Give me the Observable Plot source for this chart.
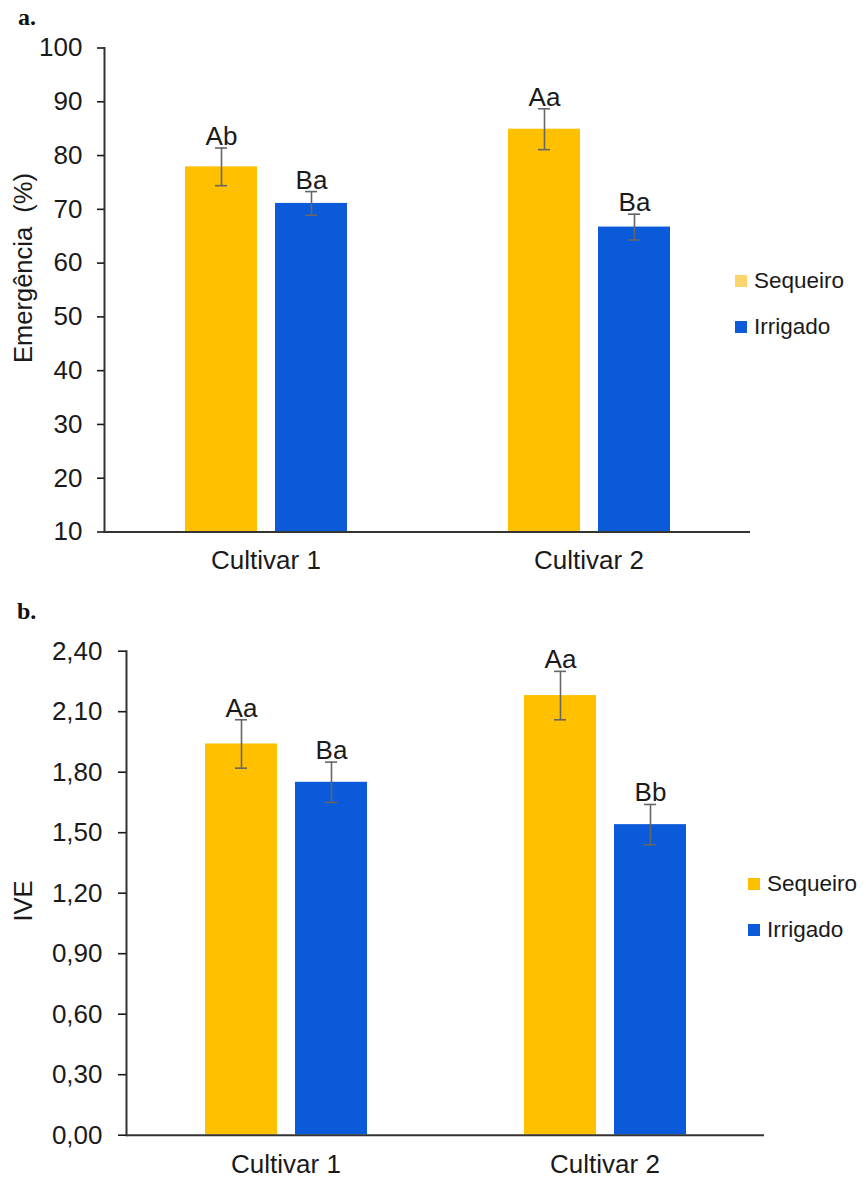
<!DOCTYPE html>
<html><head><meta charset="utf-8">
<script src="https://cdn.jsdelivr.net/npm/d3@7"></script>
<script src="https://cdn.jsdelivr.net/npm/@observablehq/plot@0.6"></script>
<style>
body{margin:0;background:#fff;font-family:"Liberation Sans",Arial,sans-serif;}
#wrap{position:relative;width:866px;height:1178px;overflow:hidden;background:#fff}
.panel{position:absolute;left:0}
.tag{position:absolute;font-family:"Liberation Serif","Times New Roman",serif;font-weight:bold;font-size:24px;line-height:1;color:#111}
.ylab{position:absolute;font-size:25.5px;color:#1a1a1a;transform:translate(-50%,-50%) rotate(-90deg);white-space:pre;line-height:1}
.leg{position:absolute;display:flex;align-items:center;font-size:22.5px;color:#1a1a1a;height:30px;white-space:nowrap}
.sw{width:12px;height:12px;margin-right:7px;flex:none}
</style></head>
<body>
<div id="wrap"></div>
<script>
// ---- data ----
const cultivars = ["Cultivar 1", "Cultivar 2"];
const treatments = ["Sequeiro", "Irrigado"];
// order: Cultivar 1 Sequeiro, Cultivar 1 Irrigado, Cultivar 2 Sequeiro, Cultivar 2 Irrigado
const emergMean = [77.9, 71.1, 84.9, 66.7];
const emergErr = [3.5, 2.2, 3.8, 2.4];
const emergLetters = ["Ab", "Ba", "Aa", "Ba"];
const iveMean = [1.94, 1.75, 2.18, 1.54];
const iveErr = [0.12, 0.10, 0.12, 0.10];
const iveLetters = ["Aa", "Ba", "Aa", "Bb"];
const emergTicks = [10, 20, 30, 40, 50, 60, 70, 80, 90, 100];
const iveTicks = [0, 0.3, 0.6, 0.9, 1.2, 1.5, 1.8, 2.1, 2.4];
const colors = ["#FFC000", "#0B5ADA"];
const legendSwatchA = ["#FBD46C", "#0B5ADA"];

function rows(means, errs, letters) {
  const out = [];
  cultivars.forEach((c, i) => treatments.forEach((t, j) => {
    const k = i * treatments.length + j;
    out.push({cultivar: c, treat: t, mean: means[k], err: errs[k], letter: letters[k]});
  }));
  return out;
}

function panel(opts) {
  const data = rows(opts.means, opts.errs, opts.letters);
  const lo = d => d.mean - d.err, hi = d => d.mean + d.err;
  const ticks = opts.ticks;
  return Plot.plot({
    width: 866, height: opts.height,
    marginTop: opts.mt, marginBottom: opts.mb, marginLeft: opts.ml, marginRight: opts.mr,
    style: {fontFamily: '"Liberation Sans", Arial, sans-serif', fontSize: "26px", color: "#1a1a1a", background: "#fff", overflow: "visible"},
    fx: {domain: cultivars, padding: 0, label: null},
    x: {domain: treatments, axis: null, paddingInner: 0.2, paddingOuter: opts.po},
    y: {domain: [ticks[0], ticks[ticks.length - 1]], label: null},
    color: {domain: treatments, range: colors},
    marks: [
      Plot.barY(data, {fx: "cultivar", x: "treat", y: "mean", fill: "treat", clip: true}),
      Plot.ruleX(data, {fx: "cultivar", x: "treat", y1: lo, y2: hi, stroke: "#666", strokeWidth: 1.6}),
      Plot.tickY(data, {fx: "cultivar", x: "treat", y: hi, stroke: "#666", strokeWidth: 1.6, insetLeft: 30, insetRight: 30}),
      Plot.tickY(data, {fx: "cultivar", x: "treat", y: lo, stroke: "#666", strokeWidth: 1.6, insetLeft: 30, insetRight: 30}),
      Plot.text(data, {fx: "cultivar", x: "treat", y: hi, text: "letter", dy: -3, lineAnchor: "bottom", fill: "#1a1a1a", fontSize: 26}),
      Plot.ruleY([ticks[0]], {stroke: "#333", strokeWidth: 2}),
      Plot.frame({anchor: "left", facet: "super", stroke: "#333", strokeWidth: 2}),
      Plot.axisY(ticks, {tickSize: opts.ts, tickPadding: opts.tp, tickFormat: opts.fmt, label: null, strokeWidth: 1.6}),
      Plot.axisFx({anchor: "bottom", tickSize: 0, tickPadding: 19, label: null})
    ]
  });
}

const wrap = document.getElementById("wrap");

const a = panel({means: emergMean, errs: emergErr, letters: emergLetters, ticks: emergTicks,
  height: 580, mt: 47.5, mb: 48.5, ml: 104, mr: 116, po: 0.894, ts: 7, tp: 15, fmt: d => String(d)});
a.classList.add("panel"); a.style.top = "0px";
wrap.appendChild(a);

const b = panel({means: iveMean, errs: iveErr, letters: iveLetters, ticks: iveTicks,
  height: 598, mt: 70.7, mb: 43.3, ml: 126, mr: 102, po: 0.872, ts: 8, tp: 16, fmt: d => d.toFixed(2).replace(".", ",")});
b.classList.add("panel"); b.style.top = "580px";
wrap.appendChild(b);

function addDiv(cls, text, style) {
  const el = document.createElement("div");
  el.className = cls; el.textContent = text;
  Object.assign(el.style, style);
  wrap.appendChild(el);
  return el;
}
addDiv("tag", "a.", {left: "18px", top: "5px"});
addDiv("tag", "b.", {left: "17px", top: "599px"});
addDiv("ylab", "Emergência  (%)", {left: "24px", top: "268px"});
addDiv("ylab", "IVE", {left: "24px", top: "901px"});

function legend(x, ys, swatches) {
  treatments.forEach((t, i) => {
    const el = document.createElement("div");
    el.className = "leg";
    el.style.left = x + "px"; el.style.top = (ys[i] - 15) + "px";
    const sw = document.createElement("span");
    sw.className = "sw"; sw.style.background = swatches[i];
    el.appendChild(sw);
    el.appendChild(document.createTextNode(t));
    wrap.appendChild(el);
  });
}
legend(735, [281, 327], legendSwatchA);
legend(748, [883.5, 930], colors);
</script>
</body></html>
